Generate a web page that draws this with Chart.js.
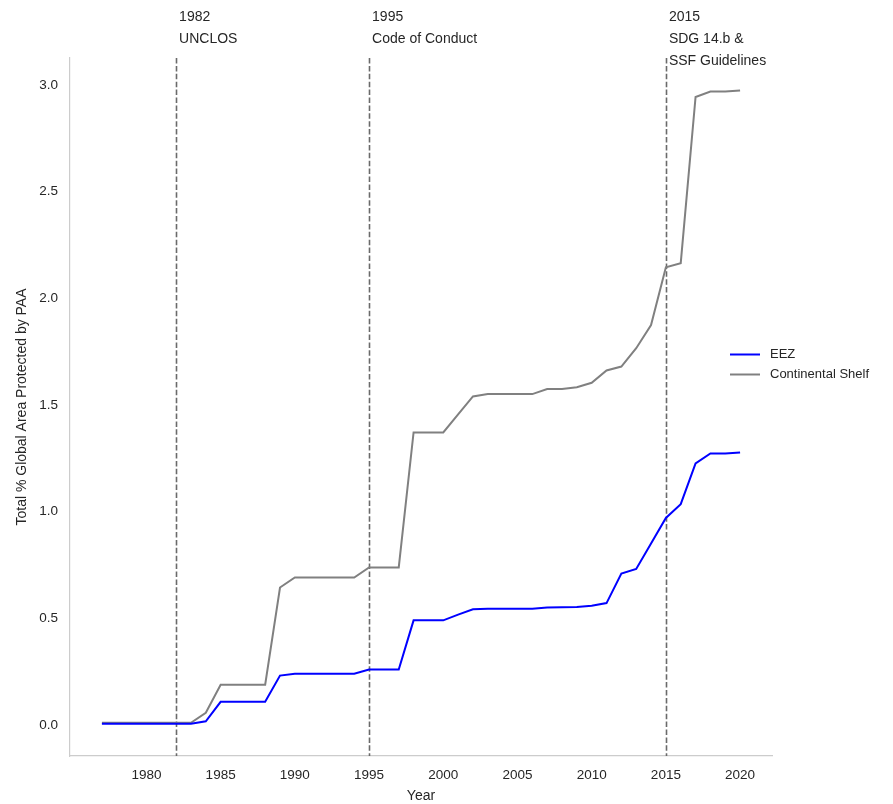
<!DOCTYPE html>
<html>
<head>
<meta charset="utf-8">
<script src="https://cdn.jsdelivr.net/npm/chart.js@4.4.1/dist/chart.umd.min.js"></script>
<style>
  html, body { margin: 0; padding: 0; background: #fff; }
  #wrap { width: 893px; height: 804px; }
</style>
</head>
<body>
<div id="wrap"><canvas id="paa-chart" width="893" height="804"></canvas></div>
<script>
const years = [
  1977, 1978, 1979, 1980, 1981, 1982, 1983, 1984, 1985, 1986, 1987,
  1988, 1989, 1990, 1991, 1992, 1993, 1994, 1995, 1996, 1997, 1998,
  1999, 2000, 2001, 2002, 2003, 2004, 2005, 2006, 2007, 2008, 2009,
  2010, 2011, 2012, 2013, 2014, 2015, 2016, 2017, 2018, 2019, 2020,
];

const eez = [
  0.005, 0.005, 0.005, 0.005, 0.005, 0.005, 0.005, 0.017, 0.108, 0.108, 0.108,
  0.108, 0.231, 0.24, 0.24, 0.24, 0.24, 0.24, 0.26, 0.26, 0.26, 0.49,
  0.49, 0.49, 0.517, 0.542, 0.545, 0.545, 0.545, 0.545, 0.55, 0.551, 0.553,
  0.559, 0.571, 0.709, 0.731, 0.85, 0.97, 1.035, 1.226, 1.273, 1.273, 1.277,
];

const continentalShelf = [
  0.01, 0.01, 0.01, 0.01, 0.01, 0.01, 0.01, 0.057, 0.188, 0.188, 0.188,
  0.188, 0.644, 0.691, 0.691, 0.691, 0.691, 0.691, 0.738, 0.738, 0.738, 1.371,
  1.371, 1.371, 1.456, 1.54, 1.551, 1.551, 1.551, 1.551, 1.575, 1.575, 1.583,
  1.604, 1.662, 1.68, 1.766, 1.875, 2.146, 2.165, 2.944, 2.97, 2.97, 2.975,
];

const xTicks = [1980, 1985, 1990, 1995, 2000, 2005, 2010, 2015, 2020];
const yTicks = [0, 0.5, 1, 1.5, 2, 2.5, 3];

const eventYears = [1982, 1995, 2015];
const eventLabels = [
  ["1982", "UNCLOS"],
  ["1995", "Code of Conduct"],
  ["2015", "SDG 14.b &", "SSF Guidelines"],
];

const Config = {
  colors: {
    eez: "#0000ff",
    shelf: "#808080",
    text: "#262626",
    spine: "#cccccc",
    event: "#6a6a6a",
  },
  font: `"Liberation Sans", Arial, sans-serif`,
};

Chart.defaults.font.family = Config.font;
Chart.defaults.color = Config.colors.text;

const toPoints = (values) => years.map((y, i) => ({ x: y, y: values[i] }));

// dashed policy lines + their labels above the plot
const eventPlugin = {
  id: "events",
  beforeDatasetsDraw(chart) {
    const { ctx, chartArea, scales } = chart;
    ctx.save();
    ctx.strokeStyle = Config.colors.event;
    ctx.lineWidth = 1.6;
    ctx.setLineDash([5.5, 2.4]);
    eventYears.forEach((yr) => {
      const px = Math.round(scales.x.getPixelForValue(yr)) + 0.5;
      ctx.beginPath();
      ctx.moveTo(px, chartArea.top);
      ctx.lineTo(px, chartArea.bottom);
      ctx.stroke();
    });
    ctx.restore();
  },
  afterDraw(chart) {
    const { ctx, scales } = chart;
    ctx.save();
    ctx.fillStyle = Config.colors.text;
    ctx.font = `14px ${Config.font}`;
    ctx.textAlign = "left";
    ctx.textBaseline = "middle";
    eventYears.forEach((yr, i) => {
      const px = scales.x.getPixelForValue(yr) + 3;
      eventLabels[i].forEach((line, j) => {
        ctx.fillText(line, px, 17 + j * 22);
      });
    });
    ctx.restore();
  },
};

// legend to the right of the axes
const sideLegend = {
  id: "sideLegend",
  afterDraw(chart) {
    const { ctx } = chart;
    ctx.save();
    ctx.font = `13px ${Config.font}`;
    ctx.textAlign = "left";
    ctx.textBaseline = "middle";
    chart.data.datasets.forEach((ds, i) => {
      const y = 354.5 + i * 20;
      ctx.strokeStyle = ds.borderColor;
      ctx.lineWidth = 2;
      ctx.beginPath();
      ctx.moveTo(730, y);
      ctx.lineTo(760, y);
      ctx.stroke();
      ctx.fillStyle = Config.colors.text;
      ctx.fillText(ds.label, 770, y);
    });
    ctx.restore();
  },
};

new Chart(document.getElementById("paa-chart"), {
  type: "line",
  data: {
    datasets: [
      {
        label: "EEZ",
        data: toPoints(eez),
        borderColor: Config.colors.eez,
        borderWidth: 2,
        pointRadius: 0,
        tension: 0,
      },
      {
        label: "Continental Shelf",
        data: toPoints(continentalShelf),
        borderColor: Config.colors.shelf,
        borderWidth: 2,
        pointRadius: 0,
        tension: 0,
      },
    ],
  },
  options: {
    responsive: false,
    animation: false,
    layout: {
      padding: { top: 58, right: 121, bottom: 0, left: 0 },
    },
    scales: {
      x: {
        type: "linear",
        min: 1974.85,
        max: 2022.15,
        grid: { display: false, drawTicks: false },
        border: { display: true, color: Config.colors.spine, width: 1.2 },
        afterBuildTicks: (scale) => {
          scale.ticks = xTicks.map((v) => ({ value: v }));
        },
        afterFit: (scale) => {
          scale.height = 48;
        },
        ticks: {
          padding: 11,
          maxRotation: 0,
          font: { size: 13.5 },
          color: Config.colors.text,
          callback: (v) => String(v),
        },
        title: {
          display: true,
          text: "Year",
          font: { size: 14 },
          color: Config.colors.text,
          padding: { top: 0, bottom: -1 },
        },
      },
      y: {
        type: "linear",
        min: -0.146,
        max: 3.127,
        grid: { display: false, drawTicks: false },
        border: { display: true, color: Config.colors.spine, width: 1.2 },
        afterBuildTicks: (scale) => {
          scale.ticks = yTicks.map((v) => ({ value: v }));
        },
        afterFit: (scale) => {
          scale.width = 70;
        },
        ticks: {
          padding: 12,
          font: { size: 13.5 },
          color: Config.colors.text,
          callback: (v) => v.toFixed(1),
        },
        title: {
          display: true,
          text: "Total % Global Area Protected by PAA",
          font: { size: 14 },
          color: Config.colors.text,
          padding: { top: 14, bottom: 0 },
        },
      },
    },
    plugins: {
      legend: { display: false },
      tooltip: { enabled: false },
    },
  },
  plugins: [eventPlugin, sideLegend],
});
</script>
</body>
</html>
